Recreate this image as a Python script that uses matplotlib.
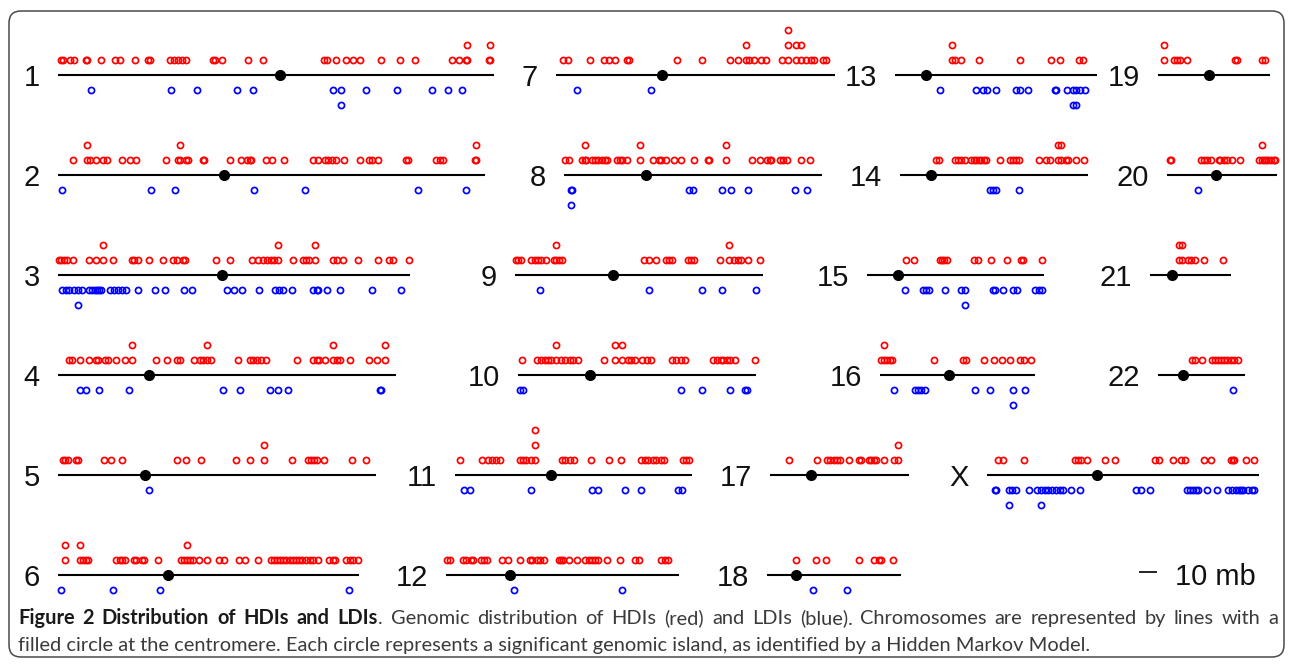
import matplotlib
matplotlib.use("Agg")
import matplotlib.pyplot as plt
from matplotlib.patches import FancyBboxPatch

# ---- data: island positions in mb (duplicates are stacked) ----
chrom_names = ["1", "2", "3", "4", "5", "6", "7", "8", "9", "10", "11", "12",
               "13", "14", "15", "16", "17", "18", "19", "20", "21", "22", "X"]
chrom_length = [247, 242, 199.3, 191.3, 180.4, 170.4, 158, 146.4, 140.5, 134.7, 134.3, 132,
                114.5, 106.4, 100.1, 87.9, 78.6, 75.9, 63.2, 62.5, 46, 49.3, 154.3]
centromere = [126, 94.3, 92.7, 51.7, 49.4, 62.2, 60.2, 46.6, 55.7, 41, 54.6, 36,
              17.5, 17.5, 17.3, 39.3, 23.1, 16.4, 28.9, 27.9, 12.5, 13.9, 62.4]

hdi_chr1 = [1.7, 3.0, 7.0, 8.9, 15.7, 16.4, 24.3, 32.5, 35.3, 43.4, 51.1, 52.1, 63.6, 65.5, 68.1, 70.4,
            72.3, 87.7, 89.2, 93.2, 107.4, 116.4, 150.8, 152.3, 157.4, 163.0, 167.0, 170.9, 183.0, 193.8,
            202.1, 223.0, 227.0, 231.1, 232.0, 232.0, 244.3, 245.0, 245.0]
ldi_chr1 = [18.5, 64.3, 78.5, 101.3, 110.6, 155.7, 160.2, 160.2, 174.3, 192.1, 212.1, 221.1, 228.9]
hdi_chr2 = [8.5, 16.6, 16.6, 17.9, 21.3, 25.5, 27.7, 36.2, 40.6, 44.3, 61.3, 67.9, 69.4, 69.4, 72.6, 73.6,
            82.1, 83.0, 97.4, 103.8, 107.2, 108.5, 109.4, 117.9, 121.1, 128.3, 144.7, 147.5, 151.3, 153.2,
            155.1, 157.5, 162.3, 171.1, 176.4, 177.7, 181.1, 197.2, 198.1, 214.2, 216.4, 217.9, 236.5,
            237.0, 237.0]
ldi_chr2 = [2.5, 52.5, 66.2, 111.3, 140.2, 204.0, 231.1]
hdi_chr3 = [0.5, 1.8, 3.4, 5.2, 8.4, 17.5, 21.6, 25.7, 25.7, 31.4, 41.7, 43.3, 45.1, 51.7, 59.5, 64.9,
            67.2, 70.6, 71.8, 89.5, 97.3, 109.8, 113.2, 116.2, 118.5, 120.7, 122.3, 124.4, 124.4, 133.3,
            139.0, 140.5, 142.4, 145.8, 145.8, 155.6, 158.3, 161.7, 169.7, 181.1, 187.5, 189.7, 198.6]
ldi_chr3 = [2.3, 4.6, 6.4, 9.1, 11.4, 11.4, 13.7, 17.5, 19.4, 21.2, 22.3, 23.5, 24.6, 29.6, 31.9, 34.2,
            36.4, 38.7, 45.6, 55.1, 60.4, 71.3, 75.9, 95.7, 99.8, 104.3, 113.9, 123.0, 125.3, 127.6,
            132.6, 144.2, 146.5, 147.4, 152.6, 159.5, 178.1, 194.3]
hdi_chr4 = [6.2, 8.0, 12.5, 17.5, 21.6, 22.8, 26.7, 28.5, 33.0, 38.0, 42.1, 42.1, 55.8, 61.5, 67.2, 69.0,
            76.8, 80.4, 82.0, 84.5, 84.5, 86.6, 101.8, 108.9, 110.5, 112.8, 115.0, 117.8, 135.5, 144.6,
            146.5, 148.1, 151.0, 155.6, 155.6, 158.3, 159.5, 165.6, 176.1, 180.6, 185.2, 185.2]
ldi_chr4 = [12.5, 15.9, 23.5, 40.3, 93.4, 103.2, 120.0, 124.6, 130.5, 182.3, 183.0]
hdi_chr5 = [3.0, 4.1, 5.7, 10.3, 11.4, 26.2, 30.3, 36.4, 67.2, 72.4, 80.9, 100.7, 108.7, 116.6, 116.6,
            132.6, 141.9, 143.5, 145.1, 146.9, 150.8, 166.3, 174.3]
ldi_chr5 = [51.7]
hdi_chr6 = [3.9, 3.9, 12.5, 12.5, 14.1, 15.7, 17.2, 33.0, 34.9, 36.4, 38.0, 43.3, 44.4, 47.8, 49.0, 56.5,
            69.5, 71.3, 73.3, 73.3, 74.9, 76.3, 79.7, 84.3, 91.1, 94.1, 102.5, 105.9, 113.4, 120.7, 122.3,
            124.1, 126.0, 127.6, 129.2, 131.4, 133.3, 135.1, 136.7, 138.3, 140.5, 142.8, 144.6, 147.4,
            153.8, 155.6, 157.2, 163.3, 165.6, 167.4, 169.7]
ldi_chr6 = [1.6, 31.4, 57.6, 164.7]
hdi_chr7 = [4.0, 6.6, 19.4, 27.4, 30.2, 33.6, 40.2, 41.3, 68.7, 82.5, 98.5, 103.2, 107.5, 107.5, 109.4,
            112.3, 116.0, 119.2, 127.9, 131.3, 131.3, 131.3, 136.0, 136.0, 138.7, 138.7, 141.5, 144.3,
            146.2, 151.0, 152.8]
ldi_chr7 = [11.9, 53.8]
hdi_chr8 = [0.8, 2.6, 10.2, 11.7, 11.7, 12.6, 15.8, 17.7, 19.1, 21.5, 23.4, 24.3, 30.0, 31.5, 32.8, 35.7,
            42.8, 42.8, 50.2, 53.6, 54.9, 57.7, 62.1, 66.4, 73.4, 81.8, 82.4, 91.7, 91.7, 106.4, 111.1,
            114.9, 116.5, 117.1, 122.1, 124.0, 126.2, 134.3, 139.4]
ldi_chr8 = [4.2, 4.2, 4.6, 70.6, 73.0, 89.4, 94.5, 104.5, 130.9, 137.5]
hdi_chr9 = [0.3, 1.8, 3.6, 9.1, 11.4, 13.2, 15.0, 17.3, 21.9, 23.5, 23.5, 25.1, 26.4, 73.0, 76.0, 80.1,
            85.8, 87.5, 88.8, 98.1, 99.7, 101.4, 115.9, 121.2, 121.2, 124.0, 126.3, 128.2, 132.1, 139.0]
ldi_chr9 = [14.4, 75.9, 106.2, 117.1, 136.3]
hdi_chr10 = [2.3, 10.9, 13.2, 15.5, 17.1, 18.7, 21.6, 21.6, 24.6, 26.9, 29.2, 31.4, 34.2, 49.0, 55.1,
             55.1, 59.2, 59.2, 62.6, 64.2, 66.1, 70.2, 72.9, 75.5, 87.0, 89.4, 92.1, 94.9, 110.7, 113.0,
             114.8, 116.4, 118.2, 120.3, 122.7, 134.4]
ldi_chr10 = [1.1, 2.7, 92.1, 104.4, 120.3, 128.4, 129.6]
hdi_chr11 = [2.7, 15.3, 18.7, 21.0, 23.2, 25.5, 36.9, 38.5, 40.3, 43.1, 45.3, 45.3, 45.3, 60.8, 62.6,
             64.9, 67.7, 77.2, 87.0, 94.3, 105.2, 107.5, 109.4, 112.0, 114.0, 116.8, 118.6, 129.1,
             130.7, 132.5]
ldi_chr11 = [5.0, 8.4, 43.3, 77.9, 81.3, 96.1, 105.2, 126.3, 128.6]
hdi_chr12 = [0.5, 2.3, 9.8, 11.4, 14.1, 15.5, 20.0, 21.6, 23.2, 31.9, 35.3, 42.1, 47.4, 49.0, 51.3, 53.5,
             55.4, 63.8, 64.9, 66.5, 69.5, 74.0, 78.6, 80.9, 82.5, 84.3, 86.1, 91.1, 98.4, 107.1, 109.3,
             122.0, 123.9, 125.7]
ldi_chr12 = [38.7, 99.5]
hdi_chr13 = [32.5, 32.5, 34.0, 37.2, 47.7, 70.6, 88.5, 93.4, 104.2, 106.6]
ldi_chr13 = [25.7, 45.7, 50.0, 51.9, 57.5, 68.5, 70.8, 75.5, 90.6, 91.5, 97.7, 100.9, 100.9, 102.5,
             102.5, 104.7, 107.5]
hdi_chr14 = [20.2, 22.1, 31.3, 32.8, 34.7, 36.6, 40.4, 41.7, 43.2, 44.7, 46.0, 47.5, 48.9, 56.8, 62.1,
             64.0, 65.8, 67.7, 78.5, 82.8, 85.1, 89.4, 89.4, 91.3, 91.3, 94.2, 95.1, 99.8, 104.5]
ldi_chr14 = [51.1, 52.6, 54.2, 67.7]
hdi_chr15 = [22.0, 26.6, 41.2, 42.3, 43.5, 45.1, 60.8, 62.7, 70.1, 79.3, 87.4, 88.6, 99.4]
ldi_chr15 = [21.5, 31.9, 33.5, 34.9, 44.2, 53.4, 55.5, 55.5, 71.5, 72.8, 77.0, 82.8, 85.1, 95.1, 97.4, 99.0]
hdi_chr16 = [0.5, 2.1, 2.1, 3.9, 5.6, 6.9, 30.8, 47.0, 48.8, 59.2, 64.5, 69.1, 73.8, 79.3, 81.6, 85.3]
ldi_chr16 = [8.1, 19.7, 21.3, 23.1, 25.4, 54.1, 62.2, 75.6, 75.6, 82.1]
hdi_chr17 = [10.9, 26.6, 32.4, 34.0, 36.3, 37.9, 39.8, 44.9, 50.2, 51.8, 55.9, 57.1, 58.7, 59.9, 64.8,
             70.5, 72.6, 72.6]
ldi_chr17 = []
hdi_chr18 = [16.2, 27.8, 33.5, 52.3, 60.9, 63.2, 64.8, 71.2]
ldi_chr18 = [26.1, 45.3]
hdi_chr19 = [3.2, 3.2, 8.9, 10.8, 12.3, 16.4, 43.8, 44.5, 59.1, 60.6]
ldi_chr19 = []
hdi_chr20 = [1.7, 2.1, 19.2, 21.1, 22.6, 24.9, 29.2, 30.2, 32.1, 34.0, 36.8, 41.5, 51.9, 53.8, 53.8, 55.0,
             56.2, 57.5, 58.9, 60.4, 61.3]
ldi_chr20 = [17.5]
hdi_chr21 = [16.2, 16.2, 18.0, 18.0, 21.5, 23.5, 25.5, 30.5, 41.6]
ldi_chr21 = []
hdi_chr22 = [19.0, 20.8, 25.0, 30.5, 32.4, 34.2, 35.8, 37.5, 39.3, 41.2, 43.3, 45.1]
ldi_chr22 = [42.3]
hdi_chrX = [6.5, 8.8, 20.8, 49.7, 51.3, 53.2, 56.7, 67.1, 72.8, 95.3, 97.6, 105.2, 109.9, 112.2, 123.0,
            126.7, 138.5, 139.2, 139.9, 146.9, 151.5]
ldi_chrX = [4.6, 5.3, 12.3, 12.3, 14.3, 16.2, 23.6, 28.2, 30.8, 30.8, 33.1, 34.7, 37.0, 39.3, 41.6, 43.2,
            47.4, 52.5, 84.4, 87.4, 92.5, 113.3, 115.2, 116.8, 118.4, 119.8, 124.9, 130.2, 136.4, 138.8,
            141.1, 142.9, 144.1, 145.3, 148.0, 150.3, 151.5]

hdi = [hdi_chr1, hdi_chr2, hdi_chr3, hdi_chr4, hdi_chr5, hdi_chr6, hdi_chr7, hdi_chr8, hdi_chr9,
       hdi_chr10, hdi_chr11, hdi_chr12, hdi_chr13, hdi_chr14, hdi_chr15, hdi_chr16, hdi_chr17,
       hdi_chr18, hdi_chr19, hdi_chr20, hdi_chr21, hdi_chr22, hdi_chrX]
ldi = [ldi_chr1, ldi_chr2, ldi_chr3, ldi_chr4, ldi_chr5, ldi_chr6, ldi_chr7, ldi_chr8, ldi_chr9,
       ldi_chr10, ldi_chr11, ldi_chr12, ldi_chr13, ldi_chr14, ldi_chr15, ldi_chr16, ldi_chr17,
       ldi_chr18, ldi_chr19, ldi_chr20, ldi_chr21, ldi_chr22, ldi_chrX]

caption_bold = "Figure 2 Distribution of HDIs and LDIs"
caption_line1 = ". Genomic distribution of HDIs (red) and LDIs (blue). Chromosomes are represented by lines with a"
caption_line2 = ("filled circle at the centromere. Each circle represents a significant genomic island, "
                 "as identified by a Hidden Markov Model.")

# ---- layout (pixels) ----
W, H, DPI = 1293, 665, 100
PX_PER_MB = 1.765
ROW_PX = 15
panel_x0 = [58, 58, 58, 58, 58, 58, 556, 564, 515, 518, 455, 446,
            895, 900, 867, 880, 770, 767, 1158, 1167, 1150, 1158, 987]
panel_row = [0, 1, 2, 3, 4, 5, 0, 1, 2, 3, 4, 5, 0, 1, 2, 3, 4, 5, 0, 1, 2, 3, 4]
LABEL_FONT = ["Liberation Sans", "DejaVu Sans"]


def stack_levels(vals):
    seen = {}
    out = []
    for v in vals:
        seen[v] = seen.get(v, 0) + 1
        out.append(seen[v])
    return out


fig = plt.figure(figsize=(W / DPI, H / DPI), dpi=DPI)
bg = fig.add_axes([0, 0, 1, 1])
bg.set_xlim(0, W)
bg.set_ylim(H, 0)
bg.axis("off")

bg.add_patch(FancyBboxPatch((9, 11), 1275, 646, boxstyle="round,pad=0,rounding_size=12",
                            fc="white", ec="#4a4a4a", lw=1.1))

for i, name in enumerate(chrom_names):
    length = chrom_length[i]
    y_line = 75 + 100 * panel_row[i]
    w_px = length * PX_PER_MB
    ax = fig.add_axes([panel_x0[i] / W, (H - y_line - 4 * ROW_PX) / H, w_px / W, 8 * ROW_PX / H])
    ax.set_xlim(0, length)
    ax.set_ylim(-4, 4)
    ax.axis("off")
    ax.plot([0, length], [0, 0], color="black", lw=1.5, solid_capstyle="butt")
    ax.plot(centromere[i], 0, "o", color="black", ms=7, clip_on=False, zorder=5)
    ax.plot(hdi[i], stack_levels(hdi[i]), "o", ms=4.4, mfc="none", mec="#ff0000", mew=1.25,
            ls="none", clip_on=False)
    if ldi[i]:
        ax.plot(ldi[i], [-l for l in stack_levels(ldi[i])], "o", ms=4.4, mfc="none", mec="#0000ff",
                mew=1.25, ls="none", clip_on=False)
    ax.annotate(name, xy=(0, 0), xycoords="data", xytext=(-13, 0), textcoords="offset points",
                ha="right", va="center_baseline", fontsize=21, family=LABEL_FONT, color="#111111")

# scale bar, 10 mb
sax = fig.add_axes([1139 / W, (H - 572 - 20) / H, 10 * PX_PER_MB / W, 40 / H])
sax.set_xlim(0, 10)
sax.set_ylim(-1, 1)
sax.axis("off")
sax.plot([0, 10], [0, 0], color="black", lw=1.2, solid_capstyle="butt")
bg.text(1175, 574, "10 mb", ha="left", va="center_baseline", fontsize=21, family=LABEL_FONT,
        color="#111111")

# ---- caption, first line justified ----
renderer = fig.canvas.get_renderer()
cap_font = ["Lato", "DejaVu Sans"]
probe = bg.text(0, 0, caption_line2, fontsize=12, family=cap_font)
w12 = probe.get_window_extent(renderer).width
probe.remove()
cap_fs = 12 * (1066 / w12)

words = [[(w, "bold")] for w in caption_bold.split()]
words[-1].append((".", "normal"))
words += [[(w, "normal")] for w in caption_line1[2:].split()]


def piece_width(txt, weight):
    t = bg.text(0, 0, txt, fontsize=cap_fs, family=cap_font, weight=weight)
    wd = t.get_window_extent(renderer).width
    t.remove()
    return wd


widths = [[piece_width(t, wt) for t, wt in wd] for wd in words]
total = sum(sum(ws) for ws in widths)
gap = (1278 - 18 - total) / (len(words) - 1)
x = 18
for wd, ws in zip(words, widths):
    for (t, wt), pw in zip(wd, ws):
        bg.text(x, 624, t, fontsize=cap_fs, family=cap_font, weight=wt, ha="left",
                va="baseline", color="#1a1a1a" if wt == "bold" else "#3a3a3a")
        x += pw
    x += gap
bg.text(18, 651, caption_line2, fontsize=cap_fs, family=cap_font, ha="left", va="baseline",
        color="#3a3a3a")

fig.savefig("out.png", dpi=DPI)
